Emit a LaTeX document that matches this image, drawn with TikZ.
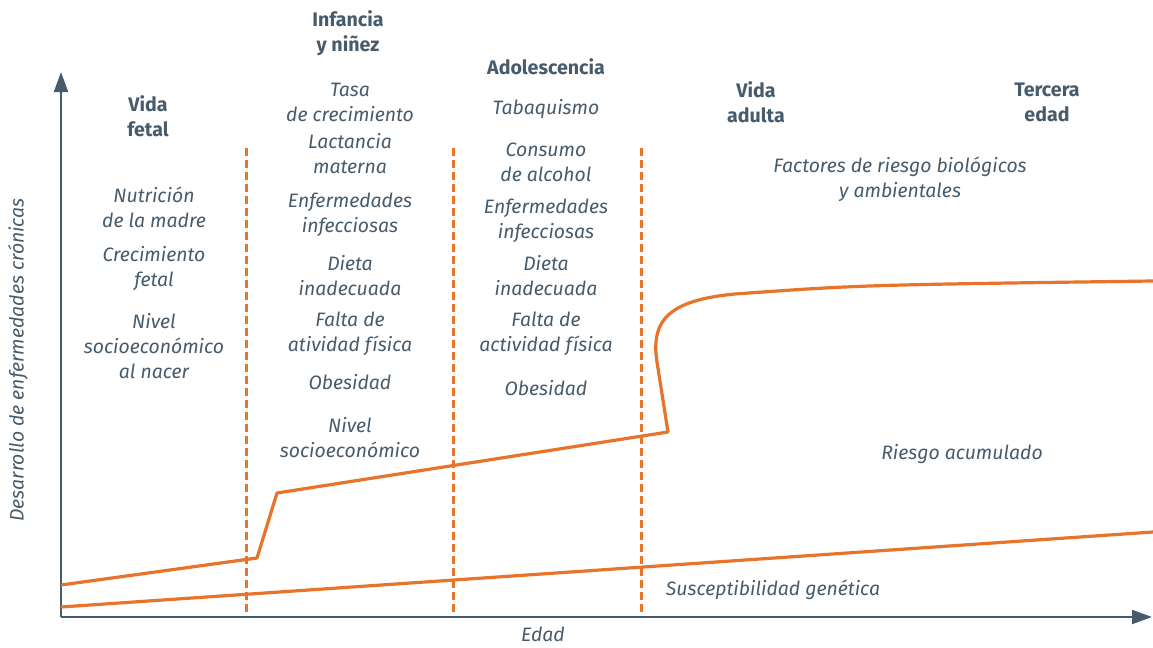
\documentclass[tikz,border=0pt]{standalone}
\usepackage{fontspec}
\setmainfont{Fira Sans}
\usepackage{tikz}
\usetikzlibrary{arrows.meta,calc}
\usetikzlibrary{positioning}
\definecolor{slate}{HTML}{465B6B}
\definecolor{naranja}{HTML}{E8732A}
\tikzset{
    etapa/.style={
           font=\bfseries\fontsize{9.8}{12.5}\selectfont,
           text=slate,
           align=center,
           inner sep=0pt,
           },
    factor/.style={
           font=\itshape\fontsize{9.7}{12.5}\selectfont,
           text=slate,
           align=center,
           inner sep=0pt,
           },
    eje/.style={
           -{Triangle[length=10pt,width=7pt]},
           draw=slate,
           line width=1.1pt,
           },
    limite/.style={
           draw=naranja,
           line width=1.5pt,
           dash pattern=on 4pt off 2pt,
           },
    curva/.style={
           draw=naranja,
           line width=1.6pt,
           line join=round,
           }
}

\begin{document}
\begin{tikzpicture}[x=0.5pt,y=-0.5pt]
\useasboundingbox (0,0) rectangle (1153,648);
% ejes
\coordinate (o) at (61,617);
\coordinate (ytip) at (61,72);
\coordinate (xtip) at (1152,617);
\draw[eje] (o) -- (ytip);
\draw[eje] (o) -- (xtip);
% limites entre etapas
\foreach \x in {246,453,641}
    \draw[limite] (\x,148) -- (\x,615);
% curvas
\draw[curva] (61,607) -- (1153,532);
\draw[curva] (61,585) -- (257,558) -- (277,493) -- (668,432) -- (657,362)
    .. controls (650,318) and (672,300) .. (735,294)
    .. controls (860,285) .. (1153,281);
% etapas
\node[etapa] (fetal) at (148,116) {Vida\\fetal};
\node[etapa] (infancia) at (348,33) {Infancia\\y niñez};
\node[etapa] (adol) at (546,67) {Adolescencia};
\node[etapa] (adulta) at (756,102) {Vida\\adulta};
\node[etapa] (tercera) at (1047,102) {Tercera\\edad};
% factores vida fetal
\node[factor] (nutri) at (154,207) {Nutrición\\de la madre};
\node[factor] (crec) at (154,268) {Crecimiento\\fetal};
\node[factor] (nivel1) at (154,346) {Nivel\\socioeconómico\\al nacer};
% factores infancia
\node[factor] (tasa) at (350,102) {Tasa\\de crecimiento};
\node[factor] (lact) at (350,154) {Lactancia\\materna};
\node[factor] (enf1) at (350,215) {Enfermedades\\infecciosas};
\node[factor] (dieta1) at (350,276) {Dieta\\inadecuada};
\node[factor] (falta1) at (350,334) {Falta de\\atividad física};
\node[factor] (obes1) at (350,382) {Obesidad};
\node[factor] (nivel2) at (350,438) {Nivel\\socioeconómico};
% factores adolescencia
\node[factor] (tabaco) at (546,109) {Tabaquismo};
\node[factor] (alcohol) at (546,162) {Consumo\\de alcohol};
\node[factor] (enf2) at (546,221) {Enfermedades\\infecciosas};
\node[factor] (dieta2) at (546,276) {Dieta\\inadecuada};
\node[factor] (falta2) at (546,334) {Falta de\\actividad física};
\node[factor] (obes2) at (546,388) {Obesidad};
% adulta
\node[factor] (riesgos) at (900,179) {Factores de riesgo biológicos\\y ambientales};
\node[factor] (acum) at (962,454) {Riesgo acumulado};
\node[factor] (genet) at (773,590) {Susceptibilidad genética};
% rotulos de ejes
\node[factor] (edad) at (543,634) {Edad};
\node[factor, rotate=90] (desarrollo) at (18,360) {Desarrollo de enfermedades crónicas};
\end{tikzpicture}
\end{document}
